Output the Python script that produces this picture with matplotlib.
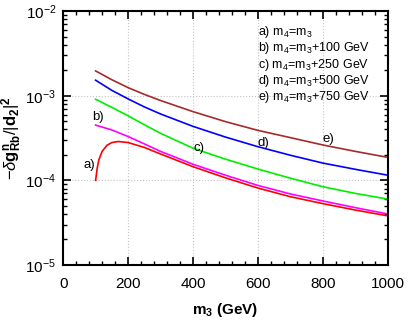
import matplotlib
matplotlib.use("Agg")
import matplotlib.pyplot as plt
from matplotlib.ticker import MultipleLocator, LogLocator, NullFormatter

plt.rcParams['font.family'] = ['Liberation Sans', 'DejaVu Sans']
plt.rcParams['mathtext.fontset'] = 'custom'
plt.rcParams['mathtext.rm'] = 'Liberation Sans'
plt.rcParams['mathtext.it'] = 'Liberation Sans:italic'
plt.rcParams['mathtext.bf'] = 'Liberation Sans:bold'

# data
m3 = [100, 150, 200, 250, 300, 400, 500, 600, 700, 800, 900, 1000]
curve_e = [1.97e-3, 1.55e-3, 1.25e-3, 1.04e-3, 8.8e-4, 6.5e-4, 4.95e-4, 3.9e-4, 3.2e-4, 2.62e-4, 2.2e-4, 1.87e-4]
curve_d = [1.53e-3, 1.16e-3, 9.2e-4, 7.4e-4, 6.1e-4, 4.35e-4, 3.25e-4, 2.5e-4, 1.98e-4, 1.6e-4, 1.35e-4, 1.15e-4]
curve_c = [9.1e-4, 7.3e-4, 5.8e-4, 4.55e-4, 3.6e-4, 2.4e-4, 1.78e-4, 1.36e-4, 1.06e-4, 8.4e-5, 7.0e-5, 6.0e-5]
curve_b = [4.5e-4, 3.95e-4, 3.3e-4, 2.7e-4, 2.2e-4, 1.55e-4, 1.15e-4, 8.7e-5, 6.9e-5, 5.7e-5, 4.75e-5, 4.0e-5]
m3_a = [100, 105, 110, 120, 135, 150, 170, 200, 250, 300, 400, 500, 600, 700, 800, 900, 1000]
curve_a = [1.0e-4, 1.4e-4, 1.75e-4, 2.2e-4, 2.6e-4, 2.8e-4, 2.88e-4, 2.8e-4, 2.45e-4, 2.05e-4, 1.45e-4,
           1.07e-4, 8.1e-5, 6.4e-5, 5.3e-5, 4.45e-5, 3.8e-5]

legend_lines = ["a) m$_4$=m$_3$", "b) m$_4$=m$_3$+100 GeV", "c) m$_4$=m$_3$+250 GeV",
                "d) m$_4$=m$_3$+500 GeV", "e) m$_4$=m$_3$+750 GeV"]
curve_tags = ["a)", "b)", "c)", "d)", "e)"]
tag_pos = [(80, 1.5e-4), (108, 5.6e-4), (418, 2.4e-4), (618, 2.75e-4), (818, 3.1e-4)]

fig = plt.figure(figsize=(4.10, 3.23), dpi=100)
ax = fig.add_axes([0.154, 0.180, 0.792, 0.785])

ax.plot(m3_a, curve_a, color='#ff0000', lw=1.2)
ax.plot(m3, curve_b, color='#ff00ff', lw=1.2)
ax.plot(m3, curve_c, color='#00ee00', lw=1.2)
ax.plot(m3, curve_d, color='#0000ff', lw=1.2)
ax.plot(m3, curve_e, color='#a52a2a', lw=1.2)

ax.set_yscale('log')
ax.set_xlim(0, 1000)
ax.set_ylim(1e-5, 1e-2)
ax.xaxis.set_major_locator(MultipleLocator(200))
ax.xaxis.set_minor_locator(MultipleLocator(40))
ax.yaxis.set_major_locator(LogLocator(base=10, numticks=10))
ax.yaxis.set_minor_locator(LogLocator(base=10, subs=range(2, 10), numticks=20))
ax.yaxis.set_minor_formatter(NullFormatter())
ax.tick_params(which='both', direction='in', top=True, right=True, labelsize=11)
ax.tick_params(which='major', length=6, width=1.2)
ax.tick_params(which='minor', length=3, width=1.0)
ax.tick_params(axis='x', which='major', pad=9)
ax.tick_params(axis='y', which='major', pad=5)
for s in ax.spines.values():
    s.set_linewidth(1.5)
ax.grid(True, which='major', color='#c4c4c4', linestyle=':', linewidth=0.8)

ax.set_xlabel("m$_\\mathbf{3}$ (GeV)", fontsize=11, fontweight='bold', labelpad=7)
ax.set_ylabel("$-\\delta \\mathbf{g}^{\\mathbf{n}}_{\\mathbf{Rb}}/|\\mathbf{d}_{\\mathbf{2}}|^{\\mathbf{2}}$", fontsize=12, labelpad=1)

for i, t in enumerate(legend_lines):
    ax.text(600, 10 ** (-2.25 - i * 0.19), t, fontsize=9, va='center', ha='left')
for t, (x, y) in zip(curve_tags, tag_pos):
    ax.text(x, y, t, fontsize=9.5, ha='center', va='center')

fig.savefig("out.png", dpi=100)
